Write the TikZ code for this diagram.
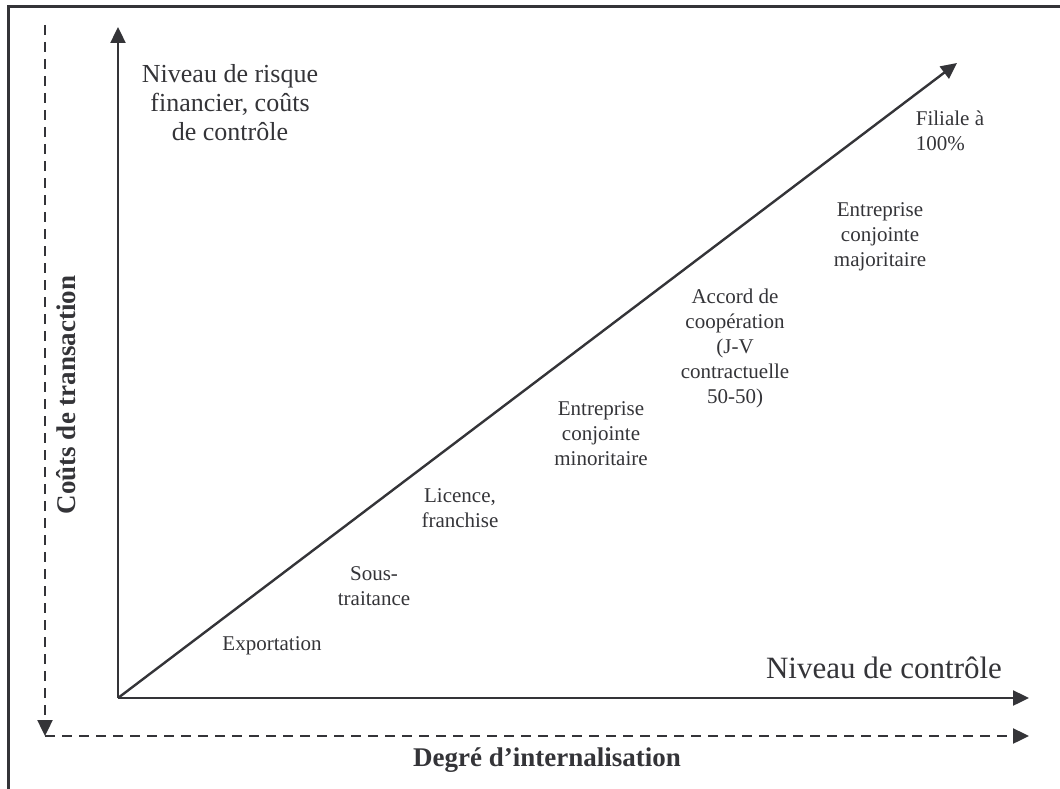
\documentclass[tikz,border=0pt]{standalone}
\usepackage{fontspec}
\setmainfont{Liberation Serif}
\usetikzlibrary{arrows.meta}
\definecolor{ink}{RGB}{52,52,56}
\tikzset{
  axis/.style={draw=ink, line width=2.4pt, -{Triangle[length=16pt,width=15pt]}},
  dashaxis/.style={axis, dash pattern=on 10pt off 7pt},
  small/.style={text=ink, font=\fontsize{21}{25}\selectfont, align=center, inner sep=0pt},
  large/.style={text=ink, font=\fontsize{26}{29}\selectfont, align=center, inner sep=0pt},
  heavy/.style={text=ink, font=\fontsize{27}{31}\selectfont\bfseries, inner sep=0pt}
}
\begin{document}
\begin{tikzpicture}[x=1pt, y=-1pt]
\useasboundingbox (0,0) rectangle (1060,789);
% frame
\draw [ink, line width=3pt] (8,789) -- (8,7) -- (1060,7);

\path (118,698) coordinate (O);
\path (118,27) coordinate (ytip);
\path (1029,698) coordinate (xtip);
\path (957,63) coordinate (dtip);
\path (45,25) coordinate (dtop);
\path (45,736) coordinate (dcorner);
\path (1029,736) coordinate (dend);

\draw [axis] (O) -- (ytip);
\draw [axis] (O) -- (xtip);
\draw [axis] (O) -- (dtip);
\draw [dashaxis] (dtop) -- (dcorner);
\draw [dashaxis] (dcorner) -- (dend);

%
\node [large] (risque) at (230,103) {Niveau de risque\\financier, coûts\\de contrôle};
\node [large, font=\fontsize{31}{35}\selectfont] (controle) at (884,668) {Niveau de contrôle};
\node [heavy, rotate=90] (transaction) at (66,395) {Coûts de transaction};
\node [heavy] (internal) at (547,760) {Degré d’internalisation};

\node [small] (export) at (272,646) {Exportation};
\node [small] (sous) at (374,586) {Sous-\\traitance};
\node [small] (licence) at (460,508) {Licence,\\franchise};
\node [small] (mino) at (601,434) {Entreprise\\conjointe\\minoritaire};
\node [small] (accord) at (735,348) {Accord de\\coopération\\(J-V\\contractuelle\\50-50)};
\node [small] (majo) at (880,237) {Entreprise\\conjointe\\majoritaire};
\node [small, align=left] (filiale) at (950,131) {Filiale à\\100\%};
\end{tikzpicture}
\end{document}
